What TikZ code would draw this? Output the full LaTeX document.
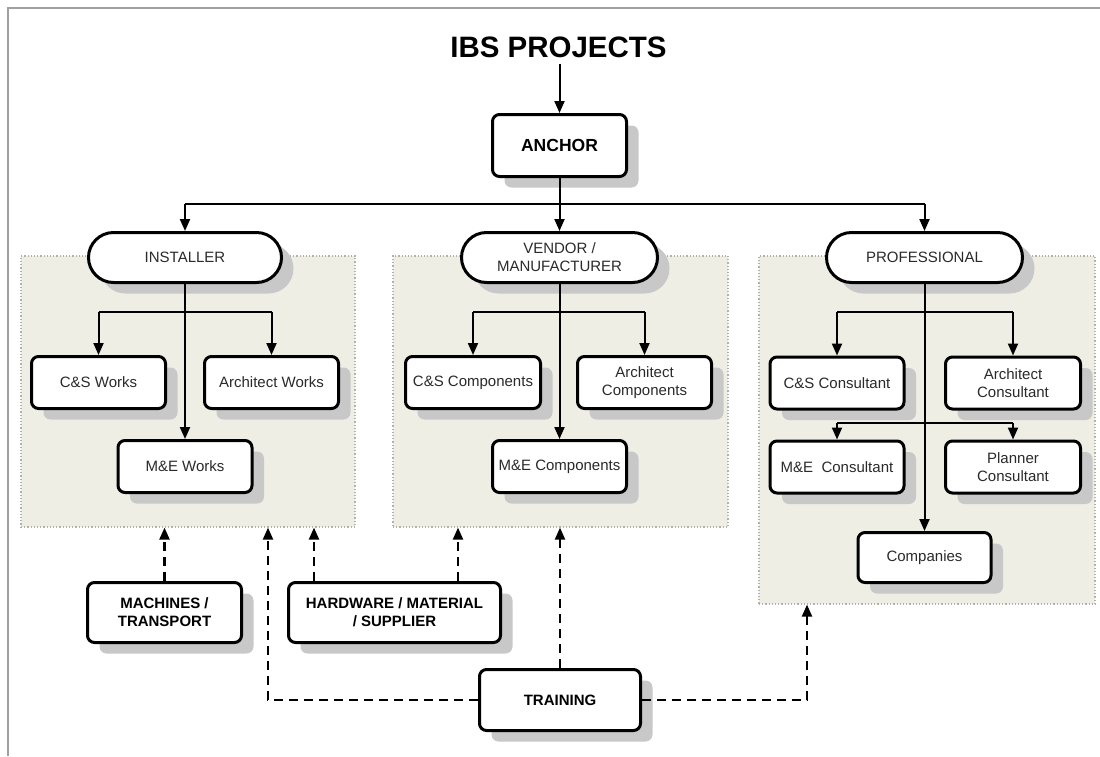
\documentclass[tikz,border=0pt]{standalone}
\usepackage{fontspec}
\setmainfont{Liberation Sans}
\usetikzlibrary{arrows.meta,shadows}
\definecolor{panelfill}{HTML}{EEEEE5}
\definecolor{paneledge}{HTML}{B2B2AA}
\definecolor{shade}{HTML}{C8C8C8}
\definecolor{framegray}{HTML}{A0A0A0}
\definecolor{ink}{HTML}{2A2A2A}
\begin{document}
\begin{tikzpicture}[x=1pt,y=-1pt,
  box/.style={draw=black, line width=3pt, fill=white, rounded corners=7pt,
    align=center, inner sep=0pt, text=ink,
    font=\fontsize{15}{18}\selectfont,
    general shadow={fill=shade, shadow xshift=12pt, shadow yshift=-11pt}},
  pill/.style={box, rounded corners=25pt, minimum height=50pt},
  leaf/.style={box, minimum width=134pt, minimum height=52pt},
  strong/.style={text=black, font=\fontsize{15}{18}\selectfont\bfseries},
  panel/.style={fill=panelfill, draw=paneledge, line width=1.2pt, dotted, inner sep=0pt},
  plain/.style={line width=2pt},
  link/.style={plain, -{Triangle[length=12pt,width=10pt]}},
  feed/.style={line width=2.2pt, dash pattern=on 9pt off 6pt, -{Triangle[length=12pt,width=10pt]}}
]
\useasboundingbox (0,0) rectangle (1100,756);

% page frame
\draw[framegray, line width=1.2pt] (8,756) -- (8,8) -- (1100,8);

% shaded group panels
\node[panel, minimum width=334pt, minimum height=271pt] (pInst) at (188,391.5) {};
\node[panel, minimum width=335pt, minimum height=271pt] (pVend) at (560.5,391.5) {};
\node[panel, minimum width=336pt, minimum height=348pt] (pProf) at (927,430) {};

% title and root
\node[font=\fontsize{29.5}{34}\selectfont\bfseries, inner sep=0pt] (title) at (558.5,47) {IBS PROJECTS};
\node[box, strong, font=\fontsize{17.5}{21}\selectfont\bfseries, minimum width=134pt, minimum height=62pt] (anchor) at (559.5,145.5) {ANCHOR};

% second level
\node[pill, minimum width=193pt] (inst) at (185,257.5) {INSTALLER};
\node[pill, minimum width=196pt] (vend) at (559.5,257.5) {VENDOR /\\MANUFACTURER};
\node[pill, minimum width=196pt] (prof) at (924.5,257.5) {PROFESSIONAL};

% installer group
\node[leaf] (csw) at (98.5,382.5) {C\&S Works};
\node[leaf] (aw) at (271.5,382.5) {Architect Works};
\node[leaf] (mew) at (185,466.5) {M\&E Works};

% vendor group
\node[leaf, minimum width=135pt] (csc) at (473,382.5) {C\&S Components};
\node[leaf] (ac) at (644.5,382.5) {Architect\\Components};
\node[leaf] (mec) at (559.5,466.5) {M\&E Components};

% professional group
\node[leaf] (cscons) at (837,383) {C\&S Consultant};
\node[leaf, minimum width=135pt] (acons) at (1013,383) {Architect\\Consultant};
\node[leaf] (mecons) at (837,467) {M\&E\ \ Consultant};
\node[leaf, minimum width=135pt] (pcons) at (1013,467) {Planner\\Consultant};
\node[leaf, minimum width=133pt, minimum height=50pt] (comp) at (924.5,557.5) {Companies};

% support nodes
\node[box, strong, minimum width=154pt, minimum height=60pt] (mach) at (164.5,612.5) {MACHINES /\\TRANSPORT};
\node[box, strong, minimum width=212pt, minimum height=60pt] (hw) at (394.5,612.5) {HARDWARE / MATERIAL\\/ SUPPLIER};
\node[box, strong, minimum width=161pt, minimum height=61pt] (train) at (560,700) {TRAINING};

% tree connectors
\coordinate (bus) at (0,204);
\coordinate (row1) at (0,312);
\coordinate (row2) at (0,423);
\draw[link] (anchor.north |- title.south) ++(0,6) -- (anchor.north);
\draw[link] (anchor.south) -- (vend.north);
\draw[plain] (bus -| inst) -- (bus -| prof);
\draw[link] (bus -| inst) -- (inst.north);
\draw[link] (bus -| prof) -- (prof.north);

\draw[link] (inst.south) -- (mew.north);
\draw[plain] (row1 -| csw) -- (row1 -| aw);
\draw[link] (row1 -| csw) -- (csw.north);
\draw[link] (row1 -| aw) -- (aw.north);

\draw[link] (vend.south) -- (mec.north);
\draw[plain] (row1 -| csc) -- (row1 -| ac);
\draw[link] (row1 -| csc) -- (csc.north);
\draw[link] (row1 -| ac) -- (ac.north);

\draw[link] (prof.south) -- (comp.north);
\draw[plain] (row1 -| cscons) -- (row1 -| acons);
\draw[link] (row1 -| cscons) -- (cscons.north);
\draw[link] (row1 -| acons) -- (acons.north);
\draw[plain] (row2 -| mecons) -- (row2 -| pcons);
\draw[link] (row2 -| mecons) -- (mecons.north);
\draw[link] (row2 -| pcons) -- (pcons.north);

% supporting flows
\coordinate (hwL) at (314,0);
\coordinate (hwR) at (458,0);
\coordinate (trL) at (268,0);
\coordinate (trR) at (807,0);
\draw[feed] (mach.north) -- (mach.north |- pInst.south);
\draw[feed] (hwL |- hw.north) -- (hwL |- pInst.south);
\draw[feed] (hwR |- hw.north) -- (hwR |- pVend.south);
\draw[feed] (train.north) -- (train.north |- pVend.south);
\draw[feed] (train.west) -| (trL |- pInst.south);
\draw[feed] (train.east) -| (trR |- pProf.south);
\end{tikzpicture}
\end{document}
